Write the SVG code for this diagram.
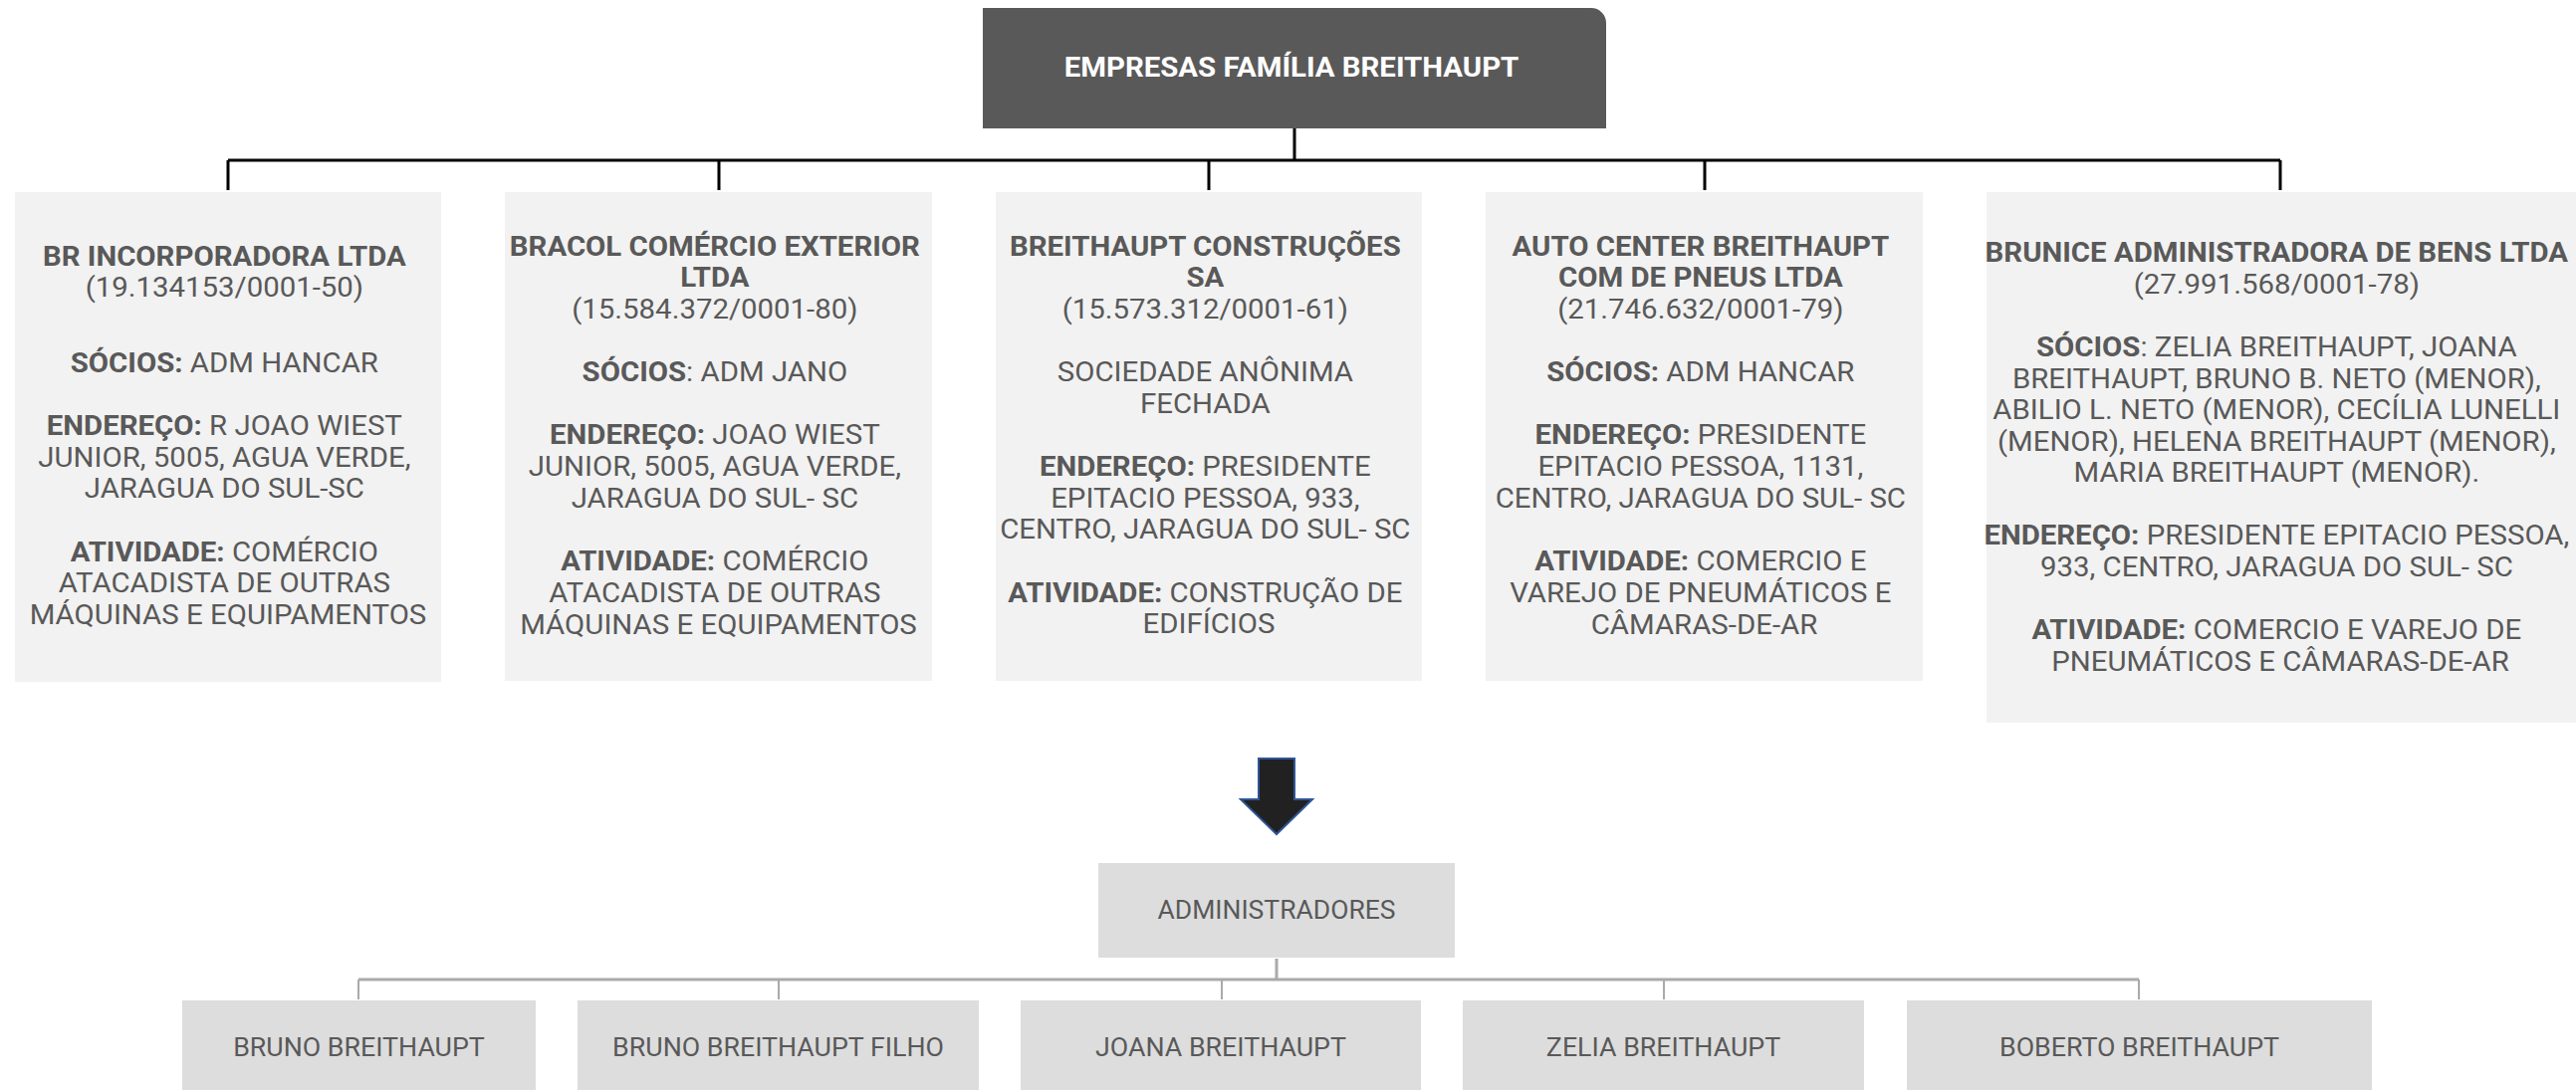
<svg xmlns="http://www.w3.org/2000/svg" width="2587" height="1095" viewBox="0 0 2587 1095">
<style>
.t{font-family:Roboto,"Liberation Sans",sans-serif;font-size:28px;fill:#595959;text-anchor:middle}
.b{font-weight:bold}
.card{fill:#f2f2f2}
.adm{fill:#dddddd}
.s{font-family:Roboto,"Liberation Sans",sans-serif;font-size:26px;fill:#595959;text-anchor:middle}
.top{stroke:#000;stroke-width:3;fill:none}
.low{stroke:#aaaaaa;fill:none}
</style>
<rect width="2587" height="1095" fill="#ffffff"/>
<g id="connectors">
  <path class="top" d="M1300 129V161M229 161H2290M229 161V191M722 161V191M1214 161V191M1712 161V191M2290 161V191"/>
  <path class="low" stroke-width="3" d="M1282 963V984M360 984H2148"/>
  <path class="low" stroke-width="2" d="M360 984V1004M782 984V1004M1227 984V1004M1671 984V1004M2148 984V1004"/>
</g>
<g id="root">
  <path d="M987 8H1598A15 15 0 0 1 1613 23V129H987Z" fill="#595959"/>
  <text class="t b" transform="translate(1297 0) scale(1.05 1)" x="0" y="77" style="fill:#ffffff">EMPRESAS FAMÍLIA BREITHAUPT</text>
</g>
<g id="br-incorporadora">
  <rect class="card" x="15" y="193" width="428" height="492"/>
  <text class="t" transform="translate(229 0) scale(1.05 1)">
    <tspan class="b" x="0" y="267">BR INCORPORADORA LTDA</tspan>
    <tspan x="0" y="298">(19.134153/0001-50)</tspan>
    <tspan x="0" y="374"><tspan class="b">SÓCIOS:</tspan> ADM HANCAR</tspan>
    <tspan x="0" y="437"><tspan class="b">ENDEREÇO:</tspan> R JOAO WIEST</tspan>
    <tspan x="0" y="469">JUNIOR, 5005, AGUA VERDE,</tspan>
    <tspan x="0" y="500">JARAGUA DO SUL-SC</tspan>
    <tspan x="0" y="564"><tspan class="b">ATIVIDADE:</tspan> COMÉRCIO</tspan>
    <tspan x="0" y="595">ATACADISTA DE OUTRAS</tspan>
    <tspan x="0" y="627">MÁQUINAS E EQUIPAMENTOS</tspan>
  </text>
</g>
<g id="bracol">
  <rect class="card" x="507" y="193" width="429" height="491"/>
  <text class="t" transform="translate(721.5 0) scale(1.05 1)">
    <tspan class="b" x="0" y="257">BRACOL COMÉRCIO EXTERIOR</tspan>
    <tspan class="b" x="0" y="288">LTDA</tspan>
    <tspan x="0" y="320">(15.584.372/0001-80)</tspan>
    <tspan x="0" y="383"><tspan class="b">SÓCIOS</tspan>: ADM JANO</tspan>
    <tspan x="0" y="446"><tspan class="b">ENDEREÇO:</tspan> JOAO WIEST</tspan>
    <tspan x="0" y="478">JUNIOR, 5005, AGUA VERDE,</tspan>
    <tspan x="0" y="510">JARAGUA DO SUL- SC</tspan>
    <tspan x="0" y="573"><tspan class="b">ATIVIDADE:</tspan> COMÉRCIO</tspan>
    <tspan x="0" y="605">ATACADISTA DE OUTRAS</tspan>
    <tspan x="0" y="637">MÁQUINAS E EQUIPAMENTOS</tspan>
  </text>
</g>
<g id="breithaupt-construcoes">
  <rect class="card" x="1000" y="193" width="428" height="491"/>
  <text class="t" transform="translate(1214 0) scale(1.05 1)">
    <tspan class="b" x="0" y="257">BREITHAUPT CONSTRUÇÕES</tspan>
    <tspan class="b" x="0" y="288">SA</tspan>
    <tspan x="0" y="320">(15.573.312/0001-61)</tspan>
    <tspan x="0" y="383">SOCIEDADE ANÔNIMA</tspan>
    <tspan x="0" y="415">FECHADA</tspan>
    <tspan x="0" y="478"><tspan class="b">ENDEREÇO:</tspan> PRESIDENTE</tspan>
    <tspan x="0" y="510">EPITACIO PESSOA, 933,</tspan>
    <tspan x="0" y="541">CENTRO, JARAGUA DO SUL- SC</tspan>
    <tspan x="0" y="605"><tspan class="b">ATIVIDADE:</tspan> CONSTRUÇÃO DE</tspan>
    <tspan x="0" y="636">EDIFÍCIOS</tspan>
  </text>
</g>
<g id="auto-center">
  <rect class="card" x="1492" y="193" width="439" height="491"/>
  <text class="t" transform="translate(1711.5 0) scale(1.05 1)">
    <tspan class="b" x="0" y="257">AUTO CENTER BREITHAUPT</tspan>
    <tspan class="b" x="0" y="288">COM DE PNEUS LTDA</tspan>
    <tspan x="0" y="320">(21.746.632/0001-79)</tspan>
    <tspan x="0" y="383"><tspan class="b">SÓCIOS:</tspan> ADM HANCAR</tspan>
    <tspan x="0" y="446"><tspan class="b">ENDEREÇO:</tspan> PRESIDENTE</tspan>
    <tspan x="0" y="478">EPITACIO PESSOA, 1131,</tspan>
    <tspan x="0" y="510">CENTRO, JARAGUA DO SUL- SC</tspan>
    <tspan x="0" y="573"><tspan class="b">ATIVIDADE:</tspan> COMERCIO E</tspan>
    <tspan x="0" y="605">VAREJO DE PNEUMÁTICOS E</tspan>
    <tspan x="0" y="637">CÂMARAS-DE-AR</tspan>
  </text>
</g>
<g id="brunice">
  <rect class="card" x="1995" y="193" width="592" height="533"/>
  <text class="t" transform="translate(2290 0) scale(1.05 1)">
    <tspan class="b" x="0" y="263">BRUNICE ADMINISTRADORA DE BENS LTDA</tspan>
    <tspan x="0" y="295">(27.991.568/0001-78)</tspan>
    <tspan x="0" y="358"><tspan class="b">SÓCIOS</tspan>: ZELIA BREITHAUPT, JOANA</tspan>
    <tspan x="0" y="390">BREITHAUPT, BRUNO B. NETO (MENOR),</tspan>
    <tspan x="0" y="421">ABILIO L. NETO (MENOR), CECÍLIA LUNELLI</tspan>
    <tspan x="0" y="453">(MENOR), HELENA BREITHAUPT (MENOR),</tspan>
    <tspan x="0" y="484">MARIA BREITHAUPT (MENOR).</tspan>
    <tspan x="0" y="547"><tspan class="b">ENDEREÇO:</tspan> PRESIDENTE EPITACIO PESSOA,</tspan>
    <tspan x="0" y="579">933, CENTRO, JARAGUA DO SUL- SC</tspan>
    <tspan x="0" y="642"><tspan class="b">ATIVIDADE:</tspan> COMERCIO E VAREJO DE</tspan>
    <tspan x="0" y="674">PNEUMÁTICOS E CÂMARAS-DE-AR</tspan>
  </text>
</g>
<g id="arrow">
  <polygon points="1264,762 1300,762 1300,803 1318,803 1282,838 1246,803 1264,803" fill="#212121" stroke="#2f5597" stroke-width="2" stroke-linejoin="miter"/>
</g>
<g id="administradores">
  <rect class="adm" x="1103" y="867" width="358" height="95"/>
  <text class="s" transform="translate(1282 0) scale(1.02 1)" x="0" y="923">ADMINISTRADORES</text>
</g>
<g id="bruno">
  <rect class="adm" x="183" y="1005" width="355" height="95"/>
  <text class="s" transform="translate(360.5 0) scale(1.03 1)" x="0" y="1061">BRUNO BREITHAUPT</text>
</g>
<g id="bruno-filho">
  <rect class="adm" x="580" y="1005" width="403" height="95"/>
  <text class="s" transform="translate(781.5 0) scale(1.03 1)" x="0" y="1061">BRUNO BREITHAUPT FILHO</text>
</g>
<g id="joana">
  <rect class="adm" x="1025" y="1005" width="402" height="95"/>
  <text class="s" transform="translate(1226 0) scale(1.03 1)" x="0" y="1061">JOANA BREITHAUPT</text>
</g>
<g id="zelia">
  <rect class="adm" x="1469" y="1005" width="403" height="95"/>
  <text class="s" transform="translate(1670.5 0) scale(1.03 1)" x="0" y="1061">ZELIA BREITHAUPT</text>
</g>
<g id="boberto">
  <rect class="adm" x="1915" y="1005" width="467" height="95"/>
  <text class="s" transform="translate(2148.5 0) scale(1.03 1)" x="0" y="1061">BOBERTO BREITHAUPT</text>
</g>
</svg>
